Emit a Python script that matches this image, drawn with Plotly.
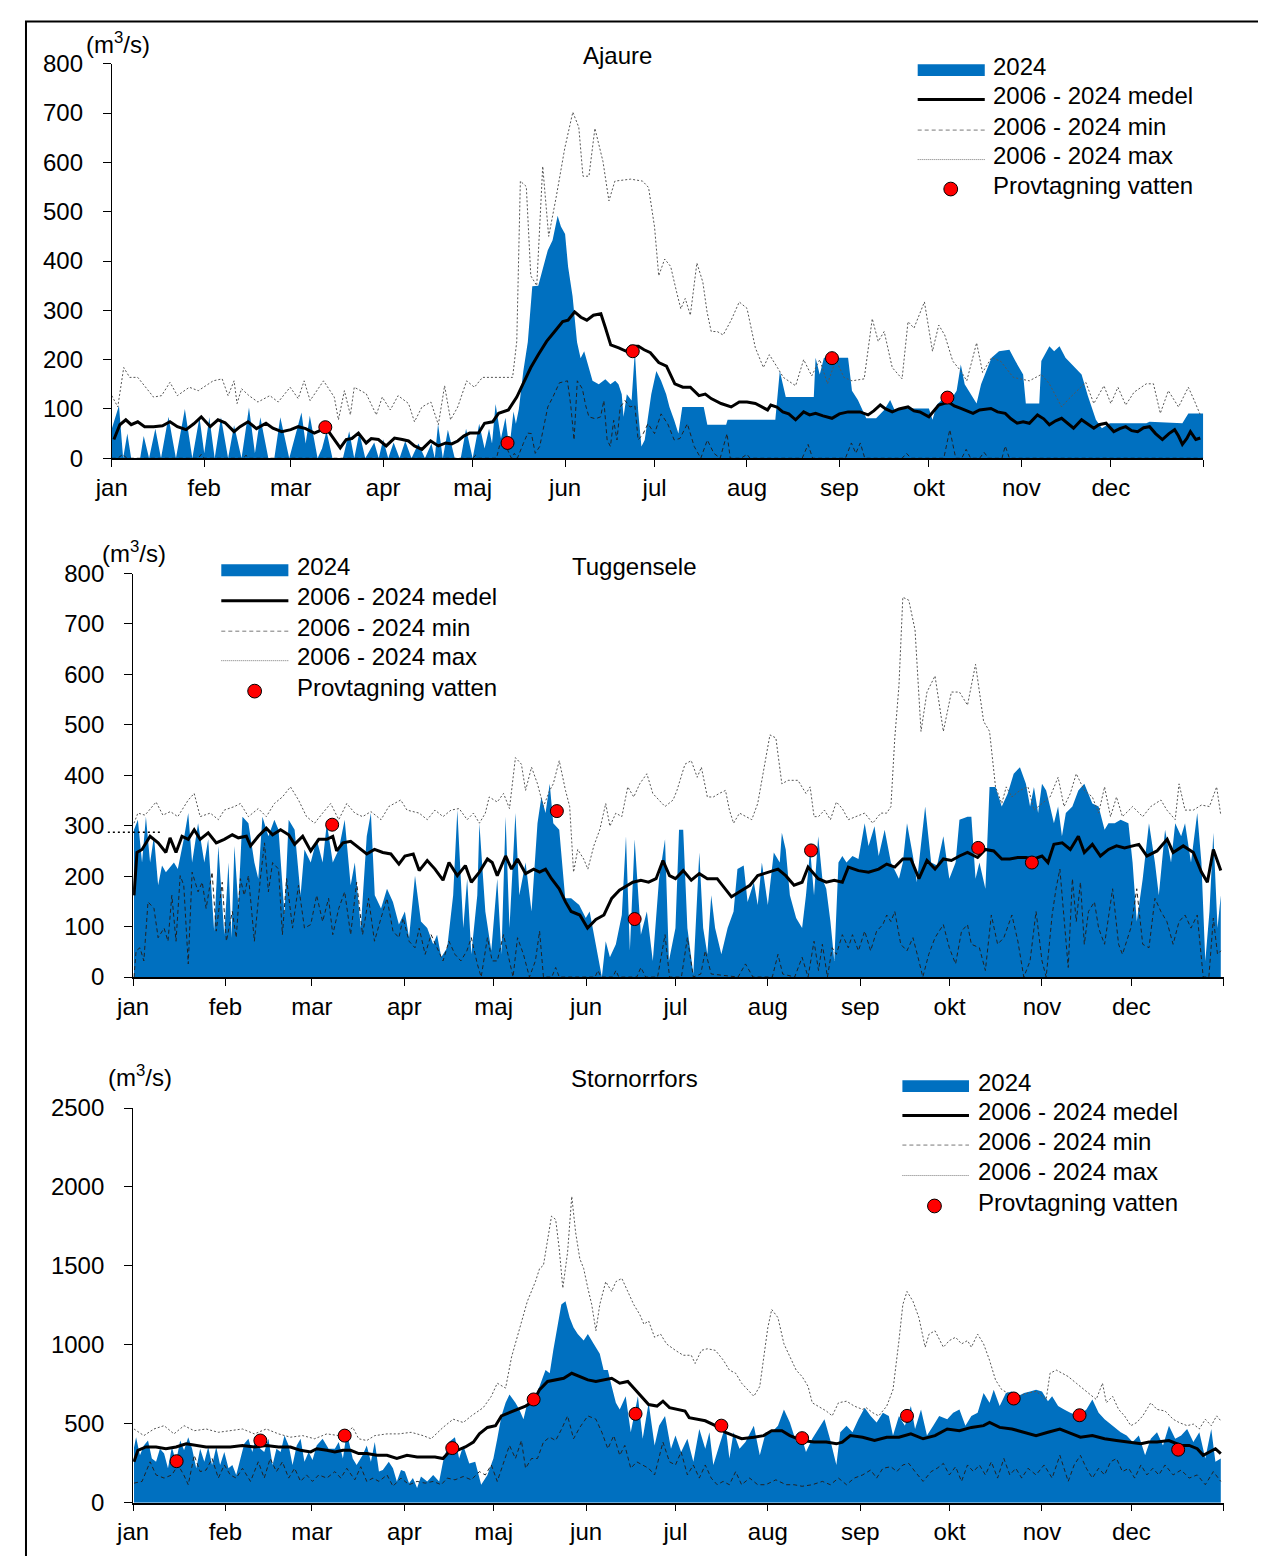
import plotly.graph_objects as go

# ---------------- DATA (day of year 2024, 0 = 1 jan; flow m3/s) ----------------
MONTH_DAYS = [0, 31, 60, 91, 121, 152, 182, 213, 244, 274, 305, 335]
MONTH_LABELS = ["jan", "feb", "mar", "apr", "maj", "jun", "jul", "aug", "sep", "okt", "nov", "dec"]
YEAR_END = 366

# ---- Ajaure ----
ajaure_2024 = [(0,60),(2.4,107),(3.8,0),(5.2,50),(6.5,0),(9.5,0),(10.7,45),(12.5,0),(14.6,60),(16.5,0),(19,84),(21.5,0),
    (24.5,100),(27,0),(29.4,83),(31,10),(32.7,83),(34.5,0),(36.6,83),(39,0),(41,67),(43.5,0),(46,103),(48,10),(49.8,83),
    (52.5,0),(54.5,0),(56.5,83),(59.5,0),(63.6,93),(65,30),(66.4,86),(69,0),(70.5,20),(72,55),(74,0),(77.5,0),(79.6,55),
    (81.3,0),(83,52),(85,0),(88,32),(89.5,0),(91,38),(92.7,0),(94.5,32),(96.5,0),(98.4,35),(100.5,0),(102.8,30),(105,0),
    (107.2,30),(108.3,0),(109.4,70),(111,0),(112.7,58),(115,0),(117,0),(118.8,60),(121,0),(123.2,70),(125,20),(126.5,60),
    (127.5,30),(128.7,110),(130.5,40),(132,82),(133.3,20),(134.7,95),(135.5,70),(136.5,100),(138,177),(139.5,236),
    (141,349),(143,350),(146.2,422),(147.8,442),(149.5,492),(150.6,470),(152,455),(153,389),(154.5,329),(156,236),
    (157.2,203),(158.4,217),(160,183),(161.2,157),(163.3,150),(165.5,160),(167.2,150),(168.8,157),(169.9,150),(171,130),
    (171.6,84),(172.7,130),(174.3,117),(175.4,217),(176.5,97),(177.6,24),(178.7,37),(180.9,130),(182.6,177),(184.2,157),
    (185.9,130),(187,104),(188.6,77),(190,50),(191.3,104),(193,104),(198.5,104),(199.7,68),(206,68),(206.5,78),
    (222.5,78),(224,177),(226,124),(235.4,124),(236,204),(237.4,170),(238.8,204),(246.9,204),(248.2,137),(250.2,118),
    (253,81),(256.3,81),(259,98),(261,118),(262.5,98),(264.4,101),(274,101),(275.2,78),(276.6,108),(279.3,124),
    (280.6,111),(283.3,137),(284.7,190),(286,150),(288.7,124),(290,111),(291.5,150),(295,204),(297.5,217),(301,220),
    (303,197),(305.6,170),(306.5,111),(311,111),(311.7,197),(314.4,227),(316,217),(317.8,227),(319.8,204),(322.5,187),
    (325.2,170),(327.3,127),(330,78),(332,61),(334.7,71),(346.9,71),(348,74),(359,71),(361,91),(366,91)]
ajaure_mean = [(0.7,38),(2.7,68),(4.7,78),(6.5,68),(8.7,74),(11,64),(14,64),(17,66),(19.5,74),(22,64),(24.9,58),(27.5,70),
    (30,84),(33,64),(35.6,78),(38,72),(41,54),(43,64),(45.7,74),(48.5,60),(51.7,71),(54,61),(57,54),(60,58),(62.5,64),
    (65,60),(67.9,51),(70.6,58),(72.5,56),(74.6,38),(76.6,21),(78.6,38),(80.5,40),(82.7,51),(85.3,31),(87,40),(89.4,38),
    (92,25),(94.8,41),(97.4,38),(99.5,35),(101.5,25),(104,18),(106.9,35),(109.5,25),(112,31),(114,29),(116,35),(118,45),
    (120,51),(123,51),(125,71),(127.7,74),(129.7,91),(133,98),(135.8,124),(137.8,150),(140.5,184),(143,210),(145.8,237),
    (148.5,257),(151.2,277),(153,280),(155.2,297),(157.3,286),(159.3,280),(161.5,290),(164,293),(165.5,265),(167.3,230),
    (170,224),(172.5,217),(174,227),(176.6,227),(178.5,220),(180.6,214),(183.4,194),(186,187),(188.8,151),(191.5,144),
    (194,144),(196.9,127),(199,130),(201,121),(204.3,111),(207.7,104),(210.4,114),(213,114),(215.8,111),(218,104),
    (219.9,98),(221,108),(223,104),(225,94),(227,90),(229.3,78),(232,94),(234,88),(236,91),(238.5,86),(241.5,81),(244,90),
    (246.9,94),(250.9,94),(253.6,88),(255.5,96),(257.7,108),(259.5,100),(261.7,94),(264,100),(267,104),(269,96),(271,94),
    (274,84),(277.3,108),(280.6,114),(282.5,106),(284.7,101),(286.7,96),(288.8,91),(291,98),(294.8,101),(297,94),
    (299.6,91),(301.5,80),(303.6,71),(305.6,74),(307.7,71),(310.4,88),(312.5,80),(314.4,68),(316.5,76),(318.5,81),
    (320.5,70),(322.5,61),(325.2,78),(327,70),(329.3,61),(331,68),(333.4,71),(336,54),(338,60),(340,64),(342,56),(344,54),
    (346,62),(348,64),(350,50),(352.3,38),(354.5,50),(356.4,58),(357.7,45),(359,28),(360.5,40),(361.7,54),(363.5,38),(365,41)]
ajaure_min = [(0,0),(2,0),(3.7,8),(5,0),(29,0),(30,8),(31,0),(44,0),(45,6),(46,0),(121,0),(122,6),(123,0),(129,0),(130,25),
    (131.5,38),(132.5,20),(134,0),(135,10),(136,0),(138,30),(139.5,51),(140.7,50),(142,10),(143.5,24),(146.2,104),
    (147.9,124),(150.1,153),(152.8,157),(153.9,107),(155,37),(156.1,157),(157.8,141),(158.9,107),(160,84),(162.2,80),
    (163.9,84),(165,117),(166.1,37),(167.2,24),(168.3,77),(169.4,37),(170.5,104),(172.1,117),(173.8,104),(175.4,107),
    (176.5,37),(178.2,50),(179.8,70),(182,50),(184.2,90),(186.4,70),(188.6,37),(190.5,40),(193,70),(195.3,24),(197.5,0),
    (199.7,37),(201.9,10),(204,0),(206.3,50),(207.4,0),(211,0),(213,8),(214,0),(231.5,0),(233.5,28),(235,0),(246,0),
    (248,31),(249.5,10),(251,31),(252.5,0),(265,0),(266.5,10),(268,0),(279,0),(281,58),(283,0),(285,0),(286.5,18),(288,0),
    (291,0),(292.5,12),(294,0),(298.5,0),(299.6,25),(301,0),(366,0)]
ajaure_max = [(0,127),(2,104),(4,184),(6,164),(8.7,164),(11.4,144),(14,124),(16.7,127),(19.5,154),(22,127),(26,144),(29,137),
    (31.7,147),(34,157),(37,161),(39,127),(41,157),(42,111),(43.5,141),(46,127),(49,114),(53,127),(55.8,114),(59.8,144),
    (62.5,121),(64.5,157),(66.5,117),(71,157),(74.6,124),(76,78),(78,137),(80,88),(81.3,144),(85.3,131),(88.7,88),
    (90.7,124),(93.4,98),(96,127),(99.5,111),(101.5,74),(104,104),(107,114),(109.5,68),(111.6,147),(113.6,78),(116,104),
    (119,157),(121.6,144),(124.3,164),(129.7,164),(134.4,164),(135.8,237),(137,562),(139,551),(140.5,370),(142.5,350),
    (144.5,592),(146.5,450),(149,529),(151.9,629),(154.6,702),(156.6,671),(158,572),(160,572),(162,669),(164.7,602),
    (166.7,522),(168.7,562),(174,566),(178,562),(180,549),(182,469),(183.4,370),(185.4,404),(187.4,389),(189.4,337),
    (190.8,303),(192.3,324),(194,290),(196.2,396),(198.2,357),(199.6,297),(201,257),(203,257),(205,250),(207.7,280),
    (210.4,317),(213,304),(215.8,224),(218.5,184),(220.5,210),(223.2,184),(225.2,164),(229.3,147),(232,200),(234.7,167),
    (237.4,200),(240,151),(242.8,200),(245.5,164),(248.2,157),(252.3,161),(255,283),(257,237),(259,257),(261.7,184),
    (265,161),(267,277),(269,264),(272.5,317),(275.2,217),(277.3,270),(279.3,250),(282,197),(284.7,177),(286.7,157),
    (290,234),(292,174),(295,204),(298,197),(302.3,164),(307.7,157),(311.7,170),(314.4,151),(318.5,104),(321,121),
    (326.6,154),(329.3,111),(332.7,147),(335,111),(337.4,144),(340,108),(342.8,134),(346.9,151),(349.3,151),(351.6,91),
    (354.3,137),(357.7,104),(361,144),(363,117),(365,88)]
ajaure_sample_day = [71.6, 132.7, 174.7, 241.5, 280.2]
ajaure_sample_flow = [63, 31, 217, 203, 123]

# ---- Tuggensele ----
tugg_2024 = [(0.3,292),(1.6,312),(3,227),(4.3,318),(5.7,227),(7,279),(8.4,182),(9.7,221),(11,208),(13.7,227),(15,214),(17,273),
    (18.5,325),(19.8,227),(21.8,305),(23.9,227),(25.2,273),(27.2,91),(28.6,260),(30.6,84),(32,227),(33,78),(34,260),
    (35.3,143),(36.7,318),(38.7,305),(40.7,227),(42,195),(43.4,318),(45.4,279),(47.4,312),(48.8,292),(50.8,123),(52.2,312),
    (54.2,292),(56.2,162),(57.5,253),(59.6,227),(61.6,273),(63.6,227),(65,305),(67,227),(69,253),(71,312),(73,182),
    (74.4,227),(76.4,97),(78.4,279),(79.8,325),(81.1,162),(83.2,136),(85.2,175),(87.2,149),(89.2,104),(91.2,130),(92.6,78),
    (94.6,201),(96.6,110),(98.7,97),(100.7,65),(102,84),(103.4,39),(105.4,58),(107.4,162),(108.8,331),(110.8,97),
    (112.1,195),(113.5,45),(115.5,162),(116.2,305),(118.2,130),(120.2,52),(122.2,195),(123.6,45),(125,318),(126.3,97),
    (128.3,325),(129.6,162),(131.7,227),(133.7,130),(135.7,305),(137,357),(138.4,325),(139.8,383),(141,305),(143,292),
    (145,156),(147,156),(149.7,143),(151.9,117),(153.2,130),(154.6,84),(155.9,45),(157.3,0),(158.6,71),(160,39),(162,65),
    (164,123),(165.4,279),(166.7,52),(168.3,273),(170.4,84),(172.4,130),(174.4,32),(176.5,195),(178.5,273),(179.8,32),
    (182,97),(183.2,292),(184.6,292),(186,97),(188,6),(190,247),(191.3,97),(192.7,45),(194,162),(195.3,97),(197.4,45),
    (199.5,97),(201.5,130),(202.8,214),(204.9,221),(206.2,149),(208.3,188),(209.6,143),(211,227),(213,143),(215,247),
    (217,227),(217.7,286),(219,253),(220.4,162),(222.5,117),(224.5,97),(225.8,162),(227.2,253),(228.5,162),(229.9,279),
    (231.3,195),(232.6,175),(234,110),(235.3,32),(236.7,227),(238,240),(239.4,227),(241.4,240),(243.4,234),(245.5,305),
    (246.8,260),(248.8,299),(250.2,240),(252.2,292),(254.3,227),(257,195),(258.3,227),(259.7,305),(261.7,240),(263,188),
    (265.8,338),(267.8,227),(269.8,221),(271.9,279),(273.9,195),(276,227),(277.3,312),(280,318),(281.3,318),(282.7,195),
    (284,227),(286,175),(287.4,377),(289.4,377),(291.5,338),(293.5,364),(295.5,403),(297.6,416),(299.6,383),(301,338),
    (302.3,377),(303.7,325),(305,383),(306.4,370),(307.7,338),(309,305),(310.4,338),(311.7,279),(313,325),(315.2,338),
    (317.2,370),(319.2,383),(321.9,344),(324,338),(326,292),(327.3,305),(329.4,305),(331.4,312),(334,305),(335.4,227),
    (336.8,110),(338.8,195),(340.9,305),(342.9,227),(344.2,162),(346.3,292),(348.3,227),(349.7,305),(351.7,279),(353,305),
    (355,227),(357.1,325),(358.5,227),(359.8,32),(361.2,130),(362.5,286),(363.9,97),(365,162)]
tugg_mean = [(0.3,162),(1.3,247),(3,253),(5.7,279),(8.4,266),(11,247),(12.4,276),(14.4,247),(16.4,279),(18.5,273),(20.5,292),
    (22.5,273),(25.2,286),(27.9,266),(30.6,273),(33.3,282),(35.3,276),(38,279),(39.4,260),(42,279),(44.7,295),(46.8,282),
    (49.5,292),(52.2,282),(54.2,263),(56.9,279),(59.6,250),(62.3,273),(65,273),(67,279),(68.3,250),(70.4,266),(73,269),
    (75.7,256),(78.4,244),(81,253),(83.8,247),(86.5,244),(89.2,224),(91.2,240),(94,244),(96,211),(98.7,231),(101.3,214),
    (104,192),(106,227),(108.8,201),(111.5,221),(113.5,188),(116.2,208),(118.9,234),(120.5,227),(122.2,201),(125,240),
    (127,214),(129,234),(131.7,205),(134.4,214),(136.4,208),(138.4,214),(140.4,195),(143,175),(145.1,149),(147,130),
    (149.9,123),(152.5,97),(155.3,114),(158,123),(160.6,156),(163.2,172),(165,178),(167.7,188),(170.4,192),(173,188),
    (175.5,195),(177.8,231),(180,201),(182,195),(184.6,211),(187.3,192),(190,205),(192.7,195),(196,195),(198.8,175),
    (200.8,159),(203.5,169),(207,182),(209.6,201),(213,208),(216.4,214),(219,201),(221.8,182),(224.5,188),(226.5,218),
    (229.9,195),(232.6,188),(235.3,192),(238,188),(240,218),(243.4,211),(246.8,208),(250.2,214),(252.9,224),(255.6,218),
    (258.3,234),(261,234),(263.7,195),(266.4,231),(269.1,214),(271.9,234),(274.6,231),(277.3,240),(280,247),(283.4,237),
    (286,253),(288.8,250),(291.5,234),(294.2,234),(296.9,237),(299.6,237),(302.3,234),(305,240),(307,227),(309,263),
    (311.8,266),(314.5,253),(317.2,279),(319.2,247),(321.9,263),(324.6,240),(327.3,253),(330,260),(332.7,256),(335.4,260),
    (337.5,263),(340.2,240),(343.6,250),(347,273),(349,247),(352.4,260),(355.8,247),(358.5,208),(360.5,188),(362.5,253),
    (365,211)]
tugg_min = [(0.3,0),(1,52),(2.3,58),(3.6,32),(5,149),(7,136),(8.4,78),(10.4,97),(11.7,71),(13,162),(14.4,71),(15.8,201),
    (17,182),(18.5,26),(19.8,208),(21.8,169),(23.2,188),(24.5,136),(26.5,208),(27.9,91),(29.9,188),(31.3,71),(33.3,130),
    (34.6,78),(36,195),(37.3,162),(38.7,201),(40.7,71),(42.7,195),(44.1,266),(45.4,169),(46.8,227),(48.8,214),(50.1,84),
    (51.5,195),(53.5,97),(55.5,182),(57.5,97),(59.6,104),(61.6,162),(63.6,110),(65.6,156),(67,84),(69,136),(71,169),(73,84),
    (75,188),(77,84),(79,156),(81,71),(83.2,117),(85.2,156),(87.2,91),(89.2,78),(90.6,117),(92.6,71),(94.6,58),(96,97),
    (98,45),(100,84),(102,58),(104,32),(106,71),(108,45),(110,32),(112,52),(113.5,78),(115.5,26),(116.8,0),(118.9,78),
    (120.5,32),(122.2,32),(124.3,84),(126.3,32),(127.5,0),(129,78),(131,45),(133,0),(135,32),(136.4,91),(137.7,0),(140.5,0),
    (141.8,19),(143,0),(155,0),(156,13),(157,0),(161,0),(162,13),(163,0),(169,0),(170.4,19),(172,0),(176,0),(177,32),
    (178.5,84),(180,0),(184,0),(186,78),(188,0),(190.5,6),(192,52),(194,6),(203,0),(205.5,26),(208,0),(214.5,0),(216.4,45),
    (218,6),(222,0),(224.5,39),(226.5,0),(228.5,71),(230,13),(231.3,65),(233,0),(234.6,58),(236,45),(238,84),(240,58),
    (241.4,84),(243.4,52),(245.5,91),(247.5,52),(249.5,91),(251.6,104),(252.9,123),(254.3,110),(255.6,130),(257.6,65),
    (259.7,52),(261.7,78),(263.7,32),(265,0),(267,45),(269.1,78),(271.9,104),(273.9,58),(276,26),(278,91),(280,104),
    (281.3,65),(284,58),(286,13),(288,123),(290.1,65),(292.2,78),(294.9,123),(296.9,71),(298.9,0),(301,32),(303,130),
    (305,32),(306.4,0),(308.4,123),(309.7,175),(311,214),(312.4,123),(313.8,19),(315.2,195),(316.5,110),(317.9,188),
    (319.2,65),(320.6,130),(322.6,149),(324,97),(326,65),(328.7,175),(330.7,65),(332,45),(334.8,97),(336.8,175),(338.8,65),
    (340.9,58),(342.9,156),(344.9,130),(346.9,110),(349,65),(351,110),(353,123),(355,97),(357.1,123),(359.1,0),(361,0),
    (362.5,117),(363.9,45),(365,52)]
tugg_max = [(0.3,305),(1.6,325),(4,321),(7.7,347),(10,321),(12.5,328),(15,318),(18.5,351),(20.5,364),(22.5,318),(25.9,325),
    (28.6,312),(30.6,331),(34,338),(36,344),(38.7,318),(42,334),(44.7,318),(47.4,344),(50.1,357),(52.8,377),(55.5,351),
    (58.2,318),(60.9,305),(63.6,325),(66.3,344),(69,312),(71.7,344),(74.4,325),(77,318),(79.8,328),(83.2,312),(85.8,338),
    (88.5,347),(89.8,351),(91.9,331),(96,325),(98.7,312),(101.3,331),(104,318),(106.7,331),(109.4,334),(112.1,312),
    (114.2,325),(116.2,305),(118.2,325),(119.5,357),(122.2,347),(124.3,364),(126.3,334),(128.3,435),(130.3,422),(131.7,370),
    (133.7,416),(135.7,383),(137.7,338),(139.8,370),(141,383),(143,429),(145.1,370),(146.5,338),(147.8,208),(149.2,253),
    (151.2,234),(152.6,214),(154.6,260),(156.6,292),(158.6,344),(160,299),(162,325),(164,318),(166,377),(168,357),(170,383),
    (172.4,403),(174.4,364),(176.5,351),(178.5,338),(181.2,351),(182.5,370),(185.2,422),(187.3,429),(189.3,396),(190.7,416),
    (192.7,357),(194.7,357),(196.7,364),(198.8,370),(200.1,331),(201.5,305),(203.5,325),(205.5,318),(207.6,312),(209.6,344),
    (211.6,409),(213.7,480),(215.7,474),(217.7,383),(219.8,390),(223.1,390),(225.8,364),(227.2,377),(228.5,318),(230,318),
    (232,331),(234,312),(236,347),(238,334),(240,312),(242.8,318),(245.5,325),(248.2,305),(250.9,325),(252.9,325),
    (254.3,338),(255.6,474),(257,578),(258.3,753),(260.3,747),(262.4,688),(264.4,487),(266.4,565),(269.1,597),(271.9,487),
    (274.6,565),(277.3,565),(280,539),(282.7,620),(285.4,507),(287.4,487),(289.4,377),(291.5,344),(293,377),(294.9,357),
    (297.6,370),(300.3,377),(302.3,331),(305,344),(307.7,357),(310.4,396),(312.4,338),(314.5,364),(316.5,403),(319.2,370),
    (321.9,357),(324,325),(326,377),(328,318),(330,357),(332,318),(335.4,338),(338.8,318),(341.5,338),(344.9,351),
    (346.9,331),(349.7,312),(351,383),(353,331),(355.8,331),(358.5,341),(361.2,338),(363.6,377),(365,321)]
tugg_sample_day = [66.8, 142.2, 168.3, 227.5, 283.6, 301.6]
tugg_sample_flow = [302, 329, 115, 251, 256, 227]

# ---- Stornorrfors ----
storn_2024 = [(0.3,350),(1,415),(2.3,300),(3.6,363),(5,394),(6.3,280),(7.7,259),(9,342),(10.4,311),(11.7,218),(13,353),
    (14.4,259),(15.8,394),(17.1,332),(18.5,415),(19.8,342),(21.2,218),(22.5,342),(23.9,259),(25.2,353),(26.5,239),
    (27.9,353),(29.2,239),(30.6,322),(32,218),(33.3,239),(34.6,176),(36,280),(37.3,373),(38.7,405),(40,322),(41.4,425),
    (42.7,342),(44,322),(45.4,405),(46.8,239),(48.1,342),(49.5,322),(50.8,425),(52.2,363),(53.5,239),(54.9,363),(56.2,405),
    (57.5,259),(58.9,322),(60.2,270),(61.6,363),(63.6,405),(65.6,342),(67.7,342),(69,384),(70.4,280),(71.7,446),(73.7,280),
    (75,239),(77,300),(78.4,363),(79.8,259),(81.1,384),(82.5,197),(83.8,207),(85.8,259),(87.2,218),(88.5,135),(89.9,207),
    (91.2,197),(92.6,124),(93.9,156),(95.3,93),(96.6,166),(98.7,135),(100.7,176),(102.7,135),(104,259),(106,384),(108,415),
    (109.4,280),(110.8,363),(112.8,249),(114.8,259),(116.8,114),(118.9,176),(120.9,280),(122.2,405),(123.6,550),(125,633),
    (126.3,685),(128.3,633),(129.6,591),(131,529),(132.3,633),(134.4,654),(136.4,737),(138.4,840),(139.8,820),(141,965),
    (142.4,1110),(143.7,1255),(145.1,1276),(146.5,1172),(147.8,1110),(149.2,1068),(151.2,1027),(152.6,1068),(154.6,1006),
    (156.6,944),(157.9,840),(159.3,840),(160.6,737),(162,633),(163.3,591),(165.3,674),(167,446),(168.3,560),(169.4,674),
    (171,405),(173,633),(175,363),(176.5,488),(178.5,550),(180.5,342),(182,425),(183.9,322),(186,405),(188,259),(190,467),
    (192,342),(193.4,446),(194.7,239),(196.7,363),(198.8,488),(200.1,280),(201.5,446),(203.5,342),(205.5,384),(208.3,488),
    (210.3,300),(212.3,446),(214.3,446),(216.4,488),(218.4,591),(220.4,508),(222.5,384),(224.5,405),(225.8,322),(227.9,405),
    (229.9,467),(232,529),(234,394),(236,239),(237.3,446),(239.4,488),(241.4,446),(243.4,529),(245.5,602),(247.5,550),
    (249.5,508),(251.6,570),(253.6,550),(255,425),(257,550),(259,488),(261,612),(262.4,467),(264.4,591),(266.4,425),
    (268.5,488),(270.5,550),(273.2,529),(275.2,570),(277.3,591),(279.3,488),(281.3,550),(283.4,570),(285.4,695),(287.4,633),
    (288.8,716),(290.8,612),(292.9,695),(294.9,705),(296.9,674),(299,695),(301,705),(303,716),(305,705),(307,643),
    (308.4,674),(310.4,612),(312.4,591),(314.5,570),(317.2,550),(319.9,591),(321.9,654),(324,570),(326,529),(328.7,488),
    (331.4,446),(333.4,425),(335.4,384),(337.5,425),(339.6,300),(341.5,405),(343.6,446),(345.6,363),(347.6,488),(349.7,405),
    (351.7,425),(353.7,467),(355.8,384),(357.8,446),(359.8,280),(361.8,467),(363.2,259),(365,280)]
storn_mean = [(0.3,259),(1.6,332),(4.3,353),(7.7,353),(11,342),(14.4,353),(17.8,373),(21.2,363),(24.5,353),(28.6,353),
    (32.6,353),(36.7,363),(40.7,353),(44.7,363),(48.8,353),(52.8,353),(56.2,332),(59.6,322),(61.6,342),(65,332),(67.7,322),
    (70.4,332),(73,332),(75.7,311),(78.4,311),(81.8,300),(85.2,300),(88.5,280),(91.9,300),(95.3,290),(98,290),(101.3,290),
    (104,280),(106,322),(108.8,332),(111.5,353),(114.2,384),(116.2,436),(118.9,477),(121.6,488),(123.6,550),(126.3,570),
    (129,591),(131.7,612),(134.4,643),(136.4,716),(139.1,768),(141.8,778),(144.5,788),(147.2,820),(149.9,799),(152.6,778),
    (155.3,768),(158,778),(160.6,788),(163.3,757),(166,768),(168,726),(170.4,674),(173,622),(175.8,612),(177.8,643),
    (180,602),(182.5,591),(185.2,581),(186.6,539),(189.3,529),(192,519),(195.4,488),(198.8,446),(201.5,425),(204.2,405),
    (208.3,415),(211.6,425),(214.3,456),(217.7,456),(220.4,425),(224.5,394),(228.5,384),(232.6,384),(236,373),(238,384),
    (240.7,425),(244.8,415),(248.8,394),(252.9,415),(257,415),(261,436),(265.1,405),(269.1,425),(273.2,467),(277.3,456),
    (281.3,477),(285.4,488),(287.4,508),(290.8,477),(294.9,467),(299,446),(303,425),(307,446),(311,467),(313.8,446),
    (317.9,415),(321.9,425),(326,405),(330,394),(334.1,384),(338.2,373),(340.9,384),(343.6,384),(347.6,394),(351.7,363),
    (354.4,363),(357.1,342),(359.1,300),(361.2,322),(363.2,342),(365,311)]
storn_min = [(0.3,124),(3,135),(5.7,259),(7.7,176),(10.4,156),(13,176),(15.1,239),(17,176),(18.5,114),(20.5,300),(22.5,197),
    (24.5,207),(26.5,280),(28.6,156),(30.6,239),(32.6,176),(34.6,156),(36.7,218),(39.4,135),(42,259),(44,156),(46,280),
    (48.1,197),(50.1,259),(52.2,156),(54.2,218),(56.2,135),(58.2,176),(60.2,135),(62.3,176),(65,156),(67.7,197),(69.7,156),
    (71.7,218),(74.4,145),(76.4,228),(78.4,135),(80.5,156),(82.5,135),(85.2,176),(87.2,104),(89.9,156),(92.6,114),(95.3,135),
    (98,124),(100.7,135),(103.4,114),(105.4,156),(108,145),(110.8,166),(113.5,145),(116.2,197),(118.2,176),(120.2,239),
    (122.2,135),(124.3,259),(126.3,363),(128.3,280),(130.3,394),(131.7,218),(133.7,280),(135.7,280),(137.7,384),(139.8,415),
    (141.8,394),(143.8,467),(145.8,550),(147.8,405),(149.9,477),(152.6,550),(155.3,529),(157.3,446),(159.3,342),(161.3,425),
    (163.3,300),(165,363),(167,218),(169,259),(171,239),(173,218),(175,176),(177.8,384),(180,259),(182,239),(183.9,322),
    (186,176),(188,239),(190,156),(192,239),(194,156),(196,114),(198,135),(200.1,114),(202.2,197),(204.2,114),(206.9,156),
    (209.6,114),(212.3,114),(215.7,145),(219.1,114),(221.8,114),(224.5,104),(227.9,114),(231.3,135),(234,114),(236.7,156),
    (239.4,114),(242,156),(244.8,176),(247.5,207),(249.5,156),(251.6,218),(254.3,228),(256.3,197),(258.3,239),(260.3,249),
    (262.4,197),(265.1,135),(267.8,197),(269.8,218),(271.9,249),(273.9,176),(276,228),(278,135),(280,239),(282,197),
    (284,239),(286,176),(288,259),(290.1,156),(292.2,280),(294.2,176),(296.2,218),(298.2,156),(300.3,218),(303,176),
    (305.7,239),(308.4,156),(311,300),(313.8,135),(315.8,239),(317.9,300),(319.9,218),(321.9,156),(324,218),(326,176),
    (328,259),(330,280),(332,197),(334.1,218),(336.1,156),(338.2,239),(340.2,176),(342.2,218),(344.2,176),(346.3,239),
    (349,176),(351.7,207),(354.4,156),(357.1,176),(359.8,114),(362.5,197),(365,135)]
storn_max = [(0.3,467),(3.6,425),(7,467),(10.4,488),(13.7,436),(17.1,488),(20.5,456),(24.5,467),(28.6,446),(32.6,456),
    (36.7,467),(40.7,436),(44.7,467),(48.8,436),(52.8,415),(56.9,425),(60.9,405),(65,436),(69,425),(71.7,446),(73.7,477),
    (75.7,405),(78.4,394),(81.1,425),(85.2,436),(89.2,436),(93.3,446),(97.3,425),(100,405),(104,477),(107.4,529),(110.8,508),
    (113.5,550),(117.5,602),(120.2,674),(122.2,757),(125,726),(127,923),(129.6,1089),(132.3,1276),(135,1400),(136.4,1483),
    (137.7,1504),(139.1,1670),(140.4,1815),(141.8,1794),(143,1608),(144.2,1359),(145.8,1587),(147.2,1940),(148.5,1712),
    (149.9,1546),(151.2,1483),(152.6,1359),(153.9,1255),(155.3,1089),(156.6,1255),(158.6,1400),(160.6,1338),(162,1400),
    (164,1421),(166,1338),(168,1255),(170,1193),(171.4,1131),(173,1151),(175,1048),(177,1068),(179,1006),(182,965),
    (184.6,934),(187.3,934),(188.6,882),(190.7,965),(192.7,975),(195.4,965),(198.1,902),(200.1,840),(202.2,820),(204.2,757),
    (206.2,716),(208.3,674),(210.3,737),(211.6,923),(213,1110),(214.3,1224),(216.4,1172),(218.4,1006),(220.4,923),
    (222.5,840),(224.5,799),(226.5,737),(227.9,633),(229.9,612),(232.6,581),(234.6,550),(236.7,633),(239.4,643),(242,612),
    (244.8,591),(246,602),(248.2,570),(250.2,550),(252.9,612),(255,716),(257,1027),(258.3,1255),(259.7,1338),(261.7,1276),
    (263.7,1172),(265.8,985),(267.1,1068),(269.1,1089),(271.9,985),(273.9,1027),(276,1048),(278,1006),(280,1027),
    (281.3,985),(283.4,1068),(285.4,1006),(287.4,902),(289.4,778),(291.5,716),(293.5,695),(296.9,674),(300.3,695),(303,705),
    (305,674),(306.4,654),(307.7,820),(309.8,840),(311.8,820),(313.8,799),(316.5,757),(319.2,716),(321.2,685),(323.2,654),
    (325.3,757),(326.6,633),(328.7,674),(330.7,591),(332.7,550),(334.8,488),(336.8,508),(338.8,550),(341.5,633),(343.6,591),
    (346.3,581),(349,529),(351,508),(353.7,488),(355.8,498),(357.8,467),(359.8,529),(361.8,488),(363.6,550),(365,519)]
storn_sample_day = [14.6, 42.7, 71.0, 107.1, 134.4, 168.6, 197.4, 224.5, 259.7, 295.5, 317.6, 350.7]
storn_sample_flow = [263, 394, 425, 346, 654, 563, 488, 409, 550, 660, 554, 336]

LEGEND_TEXTS = ["2024", "2006 - 2024 medel", "2006 - 2024 min", "2006 - 2024 max", "Provtagning vatten"]

# ---------------- STYLE / LAYOUT ----------------
# page is 1266x1564 with the browser's default 8px body margin -> figure 1250x1548
PAGE_OFF = 8
W, H = 1250, 1548
BLUE = "#0070C0"
FONT = "Liberation Sans, Arial, sans-serif"
FS = 24
TXT_DY = -4   # annotation vertical nudge (px)
MEAN_W = 3


def fx(p):
    return (p - PAGE_OFF) / W


def fy(p):
    return 1 - (p - PAGE_OFF) / H


def unzip(pairs):
    return [p[0] for p in pairs], [p[1] for p in pairs]


fig = go.Figure()

panels = [
    dict(name="Ajaure", q=ajaure_2024, mean=ajaure_mean, mn=ajaure_min, mx=ajaure_max,
         sd=ajaure_sample_day, sf=ajaure_sample_flow, ymax=800, dtick=100,
         xpx=(96, 1202.5), ypx=(452, 50.5), title=(609, 46), unit=(102, 33),
         leg=dict(x0=913, x1=981, xt=987, xc=946.5, ys=[57, 87, 118, 148, 178])),
    dict(name="Tuggensele", q=tugg_2024, mean=tugg_mean, mn=tugg_min, mx=tugg_max,
         sd=tugg_sample_day, sf=tugg_sample_flow, ymax=800, dtick=100,
         xpx=(117.6, 1223.3), ypx=(980, 569.3), title=(626, 566), unit=(118, 551),
         leg=dict(x0=207, x1=275, xt=282, xc=240.8, ys=[566, 597, 628, 658, 689])),
    dict(name="Stornorrfors", q=storn_2024, mean=storn_mean, mn=storn_min, mx=storn_max,
         sd=storn_sample_day, sf=storn_sample_flow, ymax=2500, dtick=500,
         xpx=(117.6, 1223.3), ypx=(1515, 1113.3), title=(626, 1087), unit=(125, 1085),
         leg=dict(x0=897.5, x1=965, xt=972, xc=930, ys=[1091, 1121, 1151, 1182, 1213])),
]

shapes = []
annotations = []

for i, p in enumerate(panels, start=1):
    xa = "x" if i == 1 else f"x{i}"
    ya = "y" if i == 1 else f"y{i}"
    xd, yd = unzip(p["q"])
    fig.add_trace(go.Scatter(x=xd, y=yd, xaxis=xa, yaxis=ya, mode="lines", fill="tozeroy",
                             line=dict(width=0, color=BLUE), fillcolor=BLUE, name="2024", showlegend=False))
    xd, yd = unzip(p["mn"])
    fig.add_trace(go.Scatter(x=xd, y=yd, xaxis=xa, yaxis=ya, mode="lines",
                             line=dict(width=1, color="#222222", dash="4px,3px"), name="min", showlegend=False))
    xd, yd = unzip(p["mx"])
    fig.add_trace(go.Scatter(x=xd, y=yd, xaxis=xa, yaxis=ya, mode="lines",
                             line=dict(width=1, color="#555555", dash="2px,2px"), name="max", showlegend=False))
    xd, yd = unzip(p["mean"])
    fig.add_trace(go.Scatter(x=xd, y=yd, xaxis=xa, yaxis=ya, mode="lines",
                             line=dict(width=MEAN_W, color="black"), name="medel", showlegend=False))
    fig.add_trace(go.Scatter(x=p["sd"], y=p["sf"], xaxis=xa, yaxis=ya, mode="markers",
                             marker=dict(size=13, color="#FF0000", line=dict(color="black", width=1)),
                             name="Provtagning vatten", showlegend=False, cliponaxis=False))

    xkey = "xaxis" if i == 1 else f"xaxis{i}"
    ykey = "yaxis" if i == 1 else f"yaxis{i}"
    fig.update_layout(**{
        xkey: dict(domain=[fx(p["xpx"][0]), fx(p["xpx"][1])], anchor=ya, range=[0, YEAR_END],
                   tickmode="array", tickvals=MONTH_DAYS, ticktext=MONTH_LABELS,
                   ticks="outside", ticklen=7, tickwidth=1, tickcolor="black",
                   minor=dict(tickmode="array", tickvals=[YEAR_END], ticks="outside", ticklen=7,
                              tickwidth=1, tickcolor="black", showgrid=False),
                   showline=True, linecolor="black", linewidth=1.5, showgrid=False, zeroline=False,
                   tickfont=dict(size=FS, color="black", family=FONT), ticklabelstandoff=0,
                   fixedrange=True),
        ykey: dict(domain=[fy(p["ypx"][0]), fy(p["ypx"][1])], anchor=xa, range=[0, p["ymax"]],
                   tickmode="linear", tick0=0, dtick=p["dtick"],
                   ticks="outside", ticklen=8, tickwidth=1, tickcolor="black",
                   showline=True, linecolor="black", linewidth=1, showgrid=False, zeroline=False,
                   tickfont=dict(size=FS, color="black", family=FONT), ticklabelstandoff=15,
                   fixedrange=True),
    })

    annotations.append(dict(text=p["name"], x=fx(p["title"][0]), y=fy(p["title"][1] + TXT_DY), xref="paper",
                            yref="paper", showarrow=False, xanchor="center", yanchor="middle",
                            font=dict(size=FS, color="black", family=FONT)))
    annotations.append(dict(text="(m<sup>3</sup>/s)", x=fx(p["unit"][0]), y=fy(p["unit"][1] + TXT_DY),
                            xref="paper", yref="paper", showarrow=False, xanchor="center", yanchor="middle",
                            font=dict(size=FS, color="black", family=FONT)))

    lg = p["leg"]
    ys = lg["ys"]
    shapes.append(dict(type="rect", xref="paper", yref="paper", x0=fx(lg["x0"]), x1=fx(lg["x1"]),
                       y0=fy(ys[0] + 6), y1=fy(ys[0] - 6), fillcolor=BLUE, line=dict(width=0)))
    shapes.append(dict(type="line", xref="paper", yref="paper", x0=fx(lg["x0"]), x1=fx(lg["x1"]),
                       y0=fy(ys[1]), y1=fy(ys[1]), line=dict(color="black", width=MEAN_W)))
    shapes.append(dict(type="line", xref="paper", yref="paper", x0=fx(lg["x0"]), x1=fx(lg["x1"]),
                       y0=fy(ys[2]), y1=fy(ys[2]), line=dict(color="#777777", width=1, dash="4px,3px")))
    shapes.append(dict(type="line", xref="paper", yref="paper", x0=fx(lg["x0"]), x1=fx(lg["x1"]),
                       y0=fy(ys[3]), y1=fy(ys[3]), line=dict(color="#777777", width=1, dash="1px,1px")))
    shapes.append(dict(type="circle", xref="paper", yref="paper", x0=fx(lg["xc"] - 7), x1=fx(lg["xc"] + 7),
                       y0=fy(ys[4] + 7), y1=fy(ys[4] - 7), fillcolor="#FF0000", line=dict(color="black", width=1)))
    for t, yy in zip(LEGEND_TEXTS, ys):
        annotations.append(dict(text=t, x=fx(lg["xt"]), y=fy(yy + TXT_DY), xref="paper", yref="paper",
                                showarrow=False, xanchor="left", yanchor="middle",
                                font=dict(size=FS, color="black", family=FONT)))

# stray dotted guide at ~300 left of the Tuggensele axis
shapes.append(dict(type="line", xref="paper", yref="paper", x0=fx(92), x1=fx(145), y0=fy(832.7), y1=fy(832.7),
                   line=dict(color="black", width=1.5, dash="2px,3px")))
# outer frame (left and top edges visible)
shapes.append(dict(type="rect", xref="paper", yref="paper", x0=fx(9), x1=fx(1290), y0=fy(1600), y1=fy(7.5),
                   line=dict(color="black", width=2), fillcolor="rgba(0,0,0,0)", layer="above"))

fig.update_layout(width=W, height=H, autosize=False, margin=dict(l=0, r=0, t=0, b=0, pad=0),
                  paper_bgcolor="white", plot_bgcolor="white", showlegend=False,
                  font=dict(family=FONT, size=FS, color="black"),
                  shapes=shapes, annotations=annotations)

fig.write_html("out.html", config={"displayModeBar": False})
